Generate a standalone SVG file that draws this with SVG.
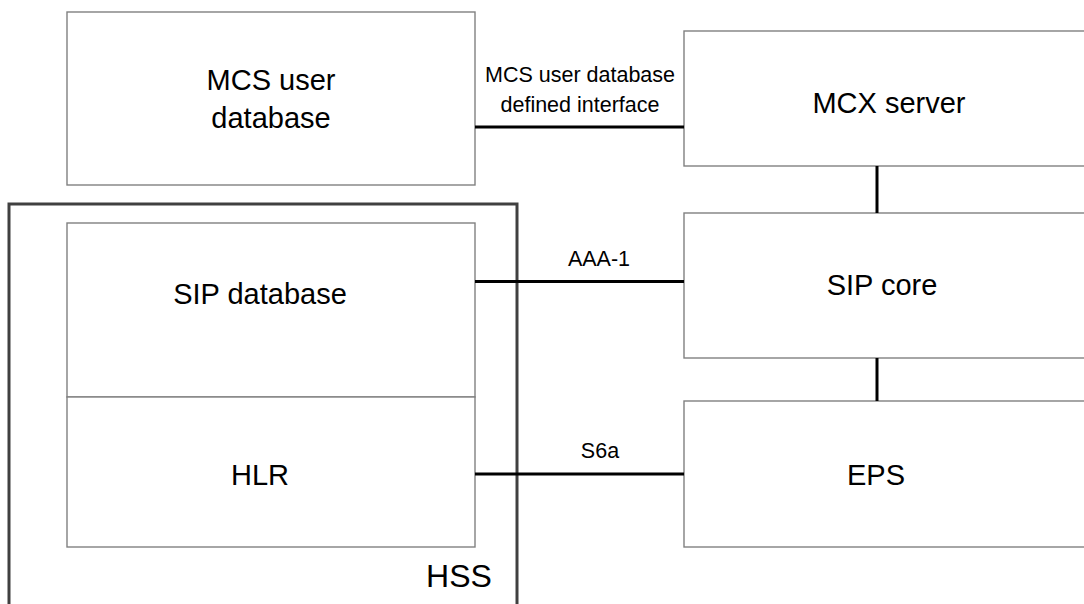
<svg xmlns="http://www.w3.org/2000/svg" width="1084" height="604" viewBox="0 0 1084 604">
<style>
.box{fill:#ffffff;stroke:#808080;stroke-width:1.4}
.hss{fill:none;stroke:#404040;stroke-width:3}
.conn{stroke:#000000;stroke-width:3;fill:none}
text{font-family:"Liberation Sans",Arial,sans-serif;fill:#000000;text-anchor:middle}
.big{font-size:29px}
.lbl{font-size:21.5px}
.hsst{font-size:32px}
</style>
<rect x="0" y="0" width="1084" height="604" fill="#ffffff"/>
<g id="hss">
<rect class="hss" x="9" y="204" width="508" height="420"/>
<text class="hsst" x="459" y="587">HSS</text>
</g>
<g id="mcs-user-database">
<rect class="box" x="67" y="12" width="408" height="173"/>
<text class="big" x="271" y="90">MCS user</text>
<text class="big" x="271" y="128">database</text>
</g>
<g id="sip-database">
<rect class="box" x="67" y="223" width="408" height="174"/>
<text class="big" x="260" y="304">SIP database</text>
</g>
<g id="hlr">
<rect class="box" x="67" y="397" width="408" height="150"/>
<text class="big" x="260" y="485">HLR</text>
</g>
<g id="mcx-server">
<rect class="box" x="684" y="31" width="420" height="135"/>
<text class="big" x="889" y="113">MCX server</text>
</g>
<g id="sip-core">
<rect class="box" x="684" y="213" width="420" height="145"/>
<text class="big" x="882" y="295">SIP core</text>
</g>
<g id="eps">
<rect class="box" x="684" y="401" width="420" height="146"/>
<text class="big" x="876" y="485">EPS</text>
</g>
<g id="connectors">
<line class="conn" x1="475" y1="127" x2="684" y2="127"/>
<line class="conn" x1="475" y1="281.5" x2="684" y2="281.5"/>
<line class="conn" x1="475" y1="474" x2="684" y2="474"/>
<line class="conn" x1="877" y1="166" x2="877" y2="213"/>
<line class="conn" x1="877" y1="358" x2="877" y2="401"/>
<text class="lbl" x="580" y="82">MCS user database</text>
<text class="lbl" x="580" y="112">defined interface</text>
<text class="lbl" x="599" y="266">AAA-1</text>
<text class="lbl" x="600" y="458">S6a</text>
</g>
</svg>
